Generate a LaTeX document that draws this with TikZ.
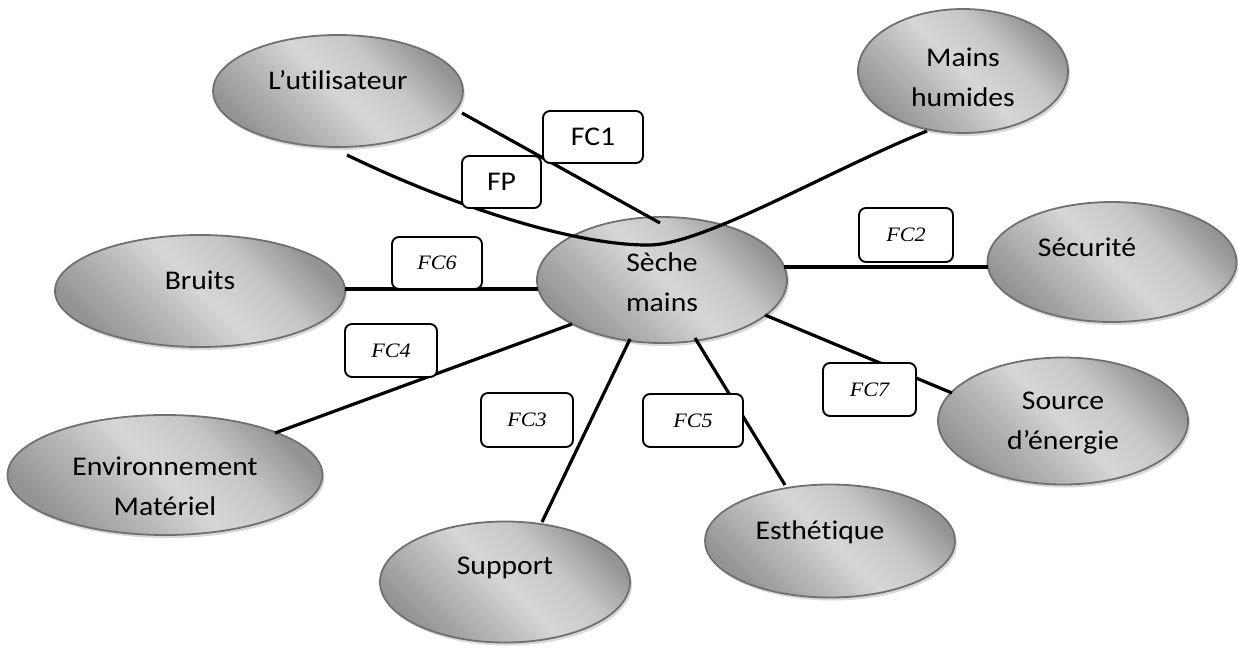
\documentclass[tikz,border=0pt]{standalone}
\usepackage{fontspec}
\usetikzlibrary{calc,shapes.geometric,shadows}
\newfontfamily\ovalfont[FakeStretch=1.1,Ligatures=NoCommon]{Carlito}
\newfontfamily\tagfont[FakeStretch=1.08]{Liberation Serif}

% grey gradient of the ovals: darker rims, light diagonal band
\pgfdeclarehorizontalshading{ovalgrad}{100bp}{%
  color(0bp)=(black!44); color(25bp)=(black!42); color(38bp)=(black!29);
  color(50bp)=(black!16); color(62bp)=(black!22); color(75bp)=(black!42);
  color(100bp)=(black!44)}

\begin{document}
\begin{tikzpicture}[x=1pt,y=-1pt,
  oval/.style={ellipse, draw=black!56, line width=1.8pt, shading=ovalgrad,
    shading angle=45, inner sep=0pt,
    drop shadow={shadow xshift=2pt, shadow yshift=-3pt, fill=black!25, opacity=0.6}},
  ovaltext/.style={font=\ovalfont\fontsize{27}{40}\selectfont, align=center,
    inner sep=0pt, text=black},
  link/.style={line width=3.2pt, black},
  tag/.style={draw, fill=white, line width=1.9pt, rounded corners=7pt, inner sep=0pt},
  fc/.style={tag, font=\tagfont\itshape\fontsize{20.5}{24}\selectfont},
  fcs/.style={tag, font=\ovalfont\fontsize{27}{30}\selectfont},
]
\useasboundingbox (0,0) rectangle (1238,648);

% ovals
\node[oval, minimum width=250pt, minimum height=112pt,
  label={[ovaltext, yshift=11pt]center:L’utilisateur}] (util) at (338,91) {};
\node[oval, minimum width=210pt, minimum height=124pt,
  label={[ovaltext, yshift=-6pt]center:{Mains\\humides}}] (mains) at (963,71) {};
\node[oval, minimum width=250pt, minimum height=126pt,
  label={[ovaltext, yshift=-2pt]center:{Sèche\\mains}}] (seche) at (662,280) {};
\node[oval, minimum width=290pt, minimum height=112pt,
  label={[ovaltext, yshift=11pt]center:Bruits}] (bruits) at (200,291) {};
\node[oval, minimum width=249pt, minimum height=120pt,
  label={[ovaltext, xshift=-25pt, yshift=15pt]center:Sécurité}] (securite) at (1112,262) {};
\node[oval, minimum width=250pt, minimum height=127pt,
  label={[ovaltext, yshift=-2pt]center:{Source\\d’énergie}}] (source) at (1063,421) {};
\node[oval, minimum width=315pt, minimum height=120pt,
  label={[ovaltext, yshift=-11pt]center:{Environnement\\Matériel}}] (env) at (165,475) {};
\node[oval, minimum width=250pt, minimum height=113pt,
  label={[ovaltext, xshift=-10pt, yshift=9pt]center:Esthétique}] (esth) at (830,541) {};
\node[oval, minimum width=250pt, minimum height=121pt,
  label={[ovaltext, yshift=14pt]center:Support}] (support) at (505,582) {};

% connectors
\draw[link] ($(util.center)+(124,22)$) -- ($(seche.center)+(-2,-57)$);
\draw[link] ($(util.center)+(9,64)$)
  .. controls (450,205) and (575,246) .. (650,245)
  .. controls (705,244) and (830,170) .. ($(mains.center)+(-36,60)$);
\draw[link] ($(bruits.center)+(145,-2)$) -- ($(seche.center)+(-124,9)$);
\draw[link] ($(seche.center)+(122,-13)$) -- ($(securite.center)+(-124,5)$);
\draw[link] ($(seche.center)+(-90,44)$) -- ($(env.center)+(110,-42)$);
\draw[link] ($(seche.center)+(-32,59)$) -- ($(support.center)+(37,-60)$);
\draw[link] ($(seche.center)+(33,58)$) -- ($(esth.center)+(-45,-56)$);
\draw[link] ($(seche.center)+(103,35)$) -- ($(source.center)+(-111,-28)$);

% function tags
\node[fcs, minimum width=100pt, minimum height=52pt] (fc1) at (593,137) {FC1};
\node[fcs, minimum width=79pt, minimum height=52pt] (fp) at (501.5,182) {FP};
\node[fc, minimum width=94pt, minimum height=54pt] (fc2) at (906,235) {FC2};
\node[fc, minimum width=90pt, minimum height=52pt] (fc6) at (437,263) {FC6};
\node[fc, minimum width=92pt, minimum height=53pt] (fc4) at (391,350.5) {FC4};
\node[fc, minimum width=93pt, minimum height=53pt] (fc7) at (869.5,389.5) {FC7};
\node[fc, minimum width=92pt, minimum height=54pt] (fc3) at (527,420) {FC3};
\node[fc, minimum width=100pt, minimum height=53pt] (fc5) at (693,420.5) {FC5};
\end{tikzpicture}
\end{document}
